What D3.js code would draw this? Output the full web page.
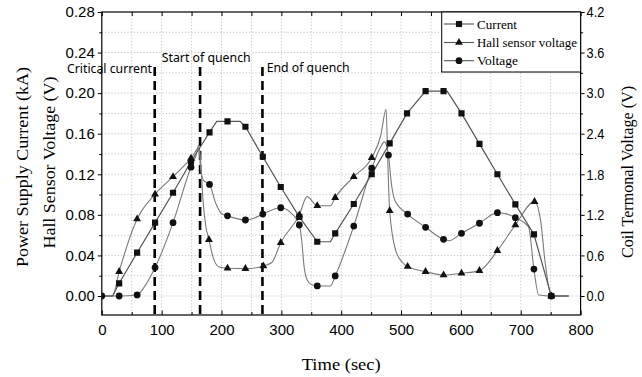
<!DOCTYPE html>
<html><head><meta charset="utf-8">
<script src="https://cdn.jsdelivr.net/npm/d3@7/dist/d3.min.js"></script>
<style>body{margin:0;background:#fff}</style>
</head><body><svg id="c" width="642" height="377"></svg>
<script>
// ---- data ----
const timeTicks = [0,100,200,300,400,500,600,700,800];
const timeMinor = [50,150,250,350,450,550,650,750];
const leftTicks = [0,0.04,0.08,0.12,0.16,0.20,0.24,0.28];
const leftMinor = [0.02,0.06,0.10,0.14,0.18,0.22,0.26];
const rightTicks = [0,0.6,1.2,1.8,2.4,3.0,3.6,4.2];
const rightMinor = [0.3,0.9,1.5,2.1,2.7,3.3,3.9];

const seriesNames = ["Current","Hall sensor voltage","Voltage"];

// Current (kA) — line points, m=1 where a marker is drawn
const currentT = [0,18,29,59,89,119,149,180,192,210,231,240,269,299,330,360,382,390,421,451,481,510,541,571,577,601,631,661,691,722,751,780];
const currentV = [0,0,0.0125,0.0427,0.0723,0.1018,0.1324,0.1614,0.1722,0.1722,0.1722,0.1669,0.1373,0.1075,0.078,0.0535,0.0535,0.0618,0.0907,0.120,0.1505,0.180,0.202,0.202,0.202,0.180,0.150,0.120,0.0904,0.0608,0,0];
const currentM = [0,0,1,1,1,1,1,1,0,1,0,1,1,1,1,1,0,1,1,1,1,1,1,1,0,1,1,1,1,1,1,0];

// Hall sensor voltage (V, left axis)
const hallT = [0,18,29,59,89,119,149,163,166,169,174,179,186,196,210,240,270,284,299,330,343,360,382,390,421,451,466,475,478,481,491,504,511,541,571,601,631,661,691,723,733,741,751,780];
const hallV = [0,0,0.024,0.0759,0.1003,0.1176,0.1357,0.146,0.125,0.095,0.068,0.0556,0.038,0.0285,0.0273,0.027,0.0296,0.033,0.0526,0.0799,0.098,0.089,0.089,0.097,0.1176,0.1364,0.158,0.184,0.13,0.084,0.045,0.032,0.029,0.024,0.0207,0.0224,0.025,0.0447,0.070,0.093,0.075,0.032,0,0];
const hallM = [0,0,1,1,1,1,1,0,0,0,0,1,0,0,1,1,1,0,1,1,0,1,0,1,1,1,0,0,0,1,0,0,1,1,1,1,1,1,1,1,0,0,1,0];

// Coil terminal voltage (V, right axis)
const voltT = [0,29,59,70,89,119,149,157,162,165,170,180,190,200,210,240,255,269,299,314,330,334,338,343,351,360,382,390,421,451,466,472,479,484,490,511,541,571,580,601,631,661,676,691,713,722,730,751,780];
const voltV = [0,0,0.015,0.12,0.42,1.085,1.905,2.07,2.235,1.89,1.71,1.65,1.38,1.22,1.185,1.124,1.155,1.212,1.305,1.245,1.05,0.825,0.435,0.24,0.165,0.149,0.149,0.296,1.035,1.89,2.205,2.28,2.085,1.65,1.41,1.212,1.016,0.839,0.818,0.927,1.076,1.232,1.215,1.158,1.02,0.399,0.015,0,0];
const voltM = [1,1,1,0,1,1,1,0,0,0,0,1,0,0,1,1,0,1,1,0,1,0,0,0,0,1,0,1,1,1,0,0,1,0,0,1,1,1,0,1,1,1,0,1,0,1,0,1,0];

// event markers
const eventNames = ["Critical current","Start of quench","End of quench"];
const eventTimes = [88.4,164.2,268.4];

// ---- drawing ----
const svg = d3.select("#c");
svg.append("rect").attr("width",642).attr("height",377).attr("fill","#fff");
const L=101.8, R=580.6, T=12, B=315;
const x = d3.scaleLinear([0,800],[L,R]);
const y = d3.scaleLinear([0,0.28],[296,T]);
const yR = d3.scaleLinear([0,4.2],[296,T]);

// grid
const grid = svg.append("g").attr("stroke","#b5b5b5").attr("stroke-width",0.8).attr("stroke-dasharray","1.2,2");
timeTicks.concat(timeMinor).filter(t=>t>0&&t<800).forEach(t=>{
  grid.append("line").attr("x1",x(t)).attr("x2",x(t)).attr("y1",T).attr("y2",B);
});
leftTicks.concat(leftMinor).filter(v=>v<0.28).forEach(v=>{
  grid.append("line").attr("x1",L).attr("x2",R).attr("y1",y(v)).attr("y2",y(v));
});

// axes
function styleAxis(g){
  g.select(".domain").remove();
  g.selectAll("line").attr("stroke","#000").attr("stroke-width",1);
  g.selectAll("text").attr("font-family","'Liberation Sans', Arial, sans-serif").attr("font-size",15).attr("fill","#000");
}
svg.append("g").attr("transform",`translate(0,${B})`)
  .call(d3.axisBottom(x).tickValues(timeTicks).tickSizeInner(-4.5).tickSizeOuter(0).tickPadding(9).tickFormat(d3.format("d")))
  .call(styleAxis);
svg.append("g").attr("transform",`translate(0,${B})`)
  .call(d3.axisBottom(x).tickValues(timeMinor).tickSizeInner(-3).tickSizeOuter(0).tickFormat(""))
  .call(styleAxis);
svg.append("g").attr("transform",`translate(0,${T})`)
  .call(d3.axisTop(x).tickValues(timeTicks.concat(timeMinor)).tickSizeInner(-4).tickSizeOuter(0).tickFormat(""))
  .call(styleAxis);
svg.append("g").attr("transform",`translate(${L},0)`)
  .call(d3.axisLeft(y).tickValues(leftTicks).tickSizeInner(4).tickSizeOuter(0).tickPadding(3).tickFormat(d3.format(".2f")))
  .call(styleAxis);
svg.append("g").attr("transform",`translate(${L},0)`)
  .call(d3.axisLeft(y).tickValues(leftMinor).tickSizeInner(2.5).tickSizeOuter(0).tickFormat(""))
  .call(styleAxis);
const rAx = svg.append("g").attr("transform",`translate(${R},0)`)
  .call(d3.axisRight(yR).tickValues(rightTicks).tickSizeInner(4).tickSizeOuter(0).tickPadding(2).tickFormat(d3.format(".1f")))
  .call(styleAxis);
rAx.selectAll("text").attr("transform","scale(0.85,1)").attr("x",6/0.85);
svg.append("g").attr("transform",`translate(${R},0)`)
  .call(d3.axisRight(yR).tickValues(rightMinor).tickSizeInner(2.5).tickSizeOuter(0).tickFormat(""))
  .call(styleAxis);

// frame
svg.append("rect").attr("x",L).attr("y",T).attr("width",R-L).attr("height",B-T)
  .attr("fill","none").attr("stroke","#000").attr("stroke-width",1.2);

// clip
svg.append("clipPath").attr("id","clip").append("rect").attr("x",L).attr("y",T).attr("width",R-L).attr("height",B-T);
const plot = svg.append("g").attr("clip-path","url(#clip)");

// dashed event lines
eventTimes.forEach(t=>{
  plot.append("line").attr("x1",x(t)).attr("x2",x(t)).attr("y1",y(0.2258)).attr("y2",B)
    .attr("stroke","#000").attr("stroke-width",2.6).attr("stroke-dasharray","9,5");
});

function mk(T_,V_,M_,scale){ return T_.map((t,i)=>({t,v:V_[i],m:M_[i],py:scale(V_[i])})); }
const cur = mk(currentT,currentV,currentM,y);
const hal = mk(hallT,hallV,hallM,y);
const vol = mk(voltT,voltV,voltM,yR);

const lineLin = d3.line().x(d=>x(d.t)).y(d=>d.py);
const lineSm = d3.line().x(d=>x(d.t)).y(d=>d.py).curve(d3.curveMonotoneX);

plot.append("path").attr("d",lineSm(vol)).attr("fill","none").attr("stroke","#7a7a7a").attr("stroke-width",1.1);
plot.append("path").attr("d",lineSm(hal)).attr("fill","none").attr("stroke","#7a7a7a").attr("stroke-width",1.1);
plot.append("path").attr("d",lineLin(cur)).attr("fill","none").attr("stroke","#555").attr("stroke-width",1.2);

const symSq = d3.symbol(d3.symbolSquare,38);
const symTr = d3.symbol(d3.symbolTriangle,27);
const symCi = d3.symbol(d3.symbolCircle,36);
function marks(data,sym){
  plot.selectAll(null).data(data.filter(d=>d.m)).join("path")
    .attr("d",sym()).attr("transform",d=>`translate(${x(d.t)},${d.py})`).attr("fill","#111");
}
marks(vol,symCi); marks(hal,symTr); marks(cur,symSq);

// event labels
const evPos = [[67,73],[161.7,62],[266.7,72]];
const evW = [85,89,83];
eventNames.forEach((n,i)=>{
  svg.append("text").attr("x",evPos[i][0]).attr("y",evPos[i][1]).text(n)
    .attr("font-family","'Noto Sans','Open Sans',sans-serif").attr("font-size",12)
    .attr("textLength",evW[i]).attr("lengthAdjust","spacingAndGlyphs").attr("fill","#000");
});

// legend
const lg = svg.append("g");
lg.append("rect").attr("x",441.7).attr("y",T).attr("width",R-441.7).attr("height",72-T)
  .attr("fill","#fff").attr("stroke","#000").attr("stroke-width",1);
const syms=[symSq,symTr,symCi];
const rowY=[24,42.5,60.7];
const legW=[40,100,41];
seriesNames.forEach((n,i)=>{
  lg.append("line").attr("x1",444).attr("x2",474).attr("y1",rowY[i]).attr("y2",rowY[i]).attr("stroke","#555").attr("stroke-width",1.1);
  lg.append("path").attr("d",syms[i]()).attr("transform",`translate(459,${rowY[i]})`).attr("fill","#111");
  lg.append("text").attr("x",477).attr("y",rowY[i]+4.5).text(n)
    .attr("font-family","'Liberation Serif','Times New Roman',serif").attr("font-size",13.5)
    .attr("textLength",legW[i]).attr("lengthAdjust","spacingAndGlyphs").attr("fill","#000");
});

// axis titles
function title(txt,cx,cy,len,rot){
  svg.append("text").attr("transform",`translate(${cx},${cy}) rotate(${rot})`)
    .attr("text-anchor","middle").attr("dy","0.35em").text(txt)
    .attr("font-family","'Liberation Serif','Times New Roman',serif").attr("font-size",16.5)
    .attr("textLength",len).attr("lengthAdjust","spacingAndGlyphs").attr("fill","#000");
}
title("Power Supply Current (kA)",22,167,200,-90);
title("Hall Sensor Voltage (V)",49.5,162.5,172,-90);
title("Coil Termonal Voltage (V)",627.5,172,172,-90);
title("Time (sec)",341.2,364,79,0);
</script></body></html>
